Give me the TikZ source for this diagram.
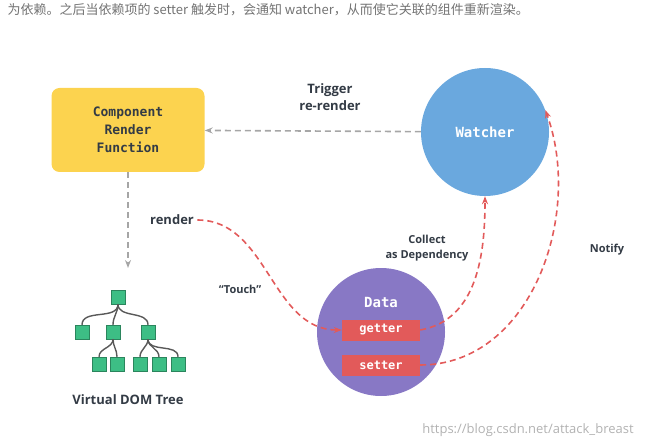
\documentclass[tikz,border=0pt]{standalone}
\usepackage{fontspec}
\setmainfont{Open Sans}
\newfontfamily\monofont{DejaVu Sans Mono}
\newfontfamily\cjk{Noto Sans CJK SC}
\usetikzlibrary{shapes,arrows.meta,positioning}
\definecolor{boxyellow}{HTML}{FCD34F}
\definecolor{watchblue}{HTML}{6AA8DE}
\definecolor{datapurple}{HTML}{8878C5}
\definecolor{accred}{HTML}{E25A5A}
\definecolor{treegreen}{HTML}{3DBE85}
\definecolor{txtdark}{HTML}{333B45}

\begin{document}
\begin{tikzpicture}[x=1pt,y=-1pt]
  \tikzstyle{comp} = [rectangle, rounded corners=8pt, fill=boxyellow, minimum width=153pt, minimum height=84pt, align=center, font=\monofont\bfseries\fontsize{13}{18}\selectfont, text=txtdark]
  \tikzstyle{bubble} = [circle, minimum size=128pt, font=\monofont\bfseries\fontsize{14}{16}\selectfont, text=white]
  \tikzstyle{acc} = [rectangle, fill=accred, minimum width=78pt, minimum height=21pt, font=\monofont\bfseries\fontsize{12}{14}\selectfont, text=white]
  \tikzstyle{cube} = [rectangle, fill=treegreen, draw=treegreen!70!black, line width=0.4pt, minimum size=14pt, inner sep=0pt]
  \tikzstyle{lbl} = [font=\bfseries\fontsize{13}{17}\selectfont, text=txtdark, align=center]
  \tikzstyle{sml} = [font=\bfseries\fontsize{11}{15}\selectfont, text=txtdark, align=center]
  \tikzstyle{red dash} = [-{Stealth[length=8pt]}, dashed, dash pattern=on 6pt off 4pt, accred, line width=1.6pt]
  \tikzstyle{gray dash} = [-{Stealth[length=8pt]}, dashed, dash pattern=on 6pt off 4pt, gray!70, line width=1.6pt]

  \useasboundingbox (0,0) rectangle (650,446);

  \node[anchor=west, text=gray!90!black, font=\cjk\fontsize{13}{15}\selectfont] (intro) at (4,10) {为依赖。之后当依赖项的 setter 触发时，会通知 watcher，从而使它关联的组件重新渲染。};

  \node[comp] (render) at (128,130) {Component\\Render\\Function};
  \node[bubble, fill=watchblue] (watcher) at (485,132) {Watcher};
  \node[bubble, fill=datapurple] (data) at (381,332) {};
  \node[font=\monofont\bfseries\fontsize{14}{16}\selectfont, text=white] (dlabel) at (381,302) {Data};
  \node[acc] (getter) at (381,330) {getter};
  \node[acc] (setter) at (381,365) {setter};

  % tree
  \node[cube] (t0) at (118,297) {};
  \node[cube] (t1) at (82,332) {};
  \node[cube] (t2) at (113,332) {};
  \node[cube] (t3) at (148,332) {};
  \node[cube] (t4) at (99,364) {};
  \node[cube] (t5) at (117,364) {};
  \node[cube] (t6) at (140,364) {};
  \node[cube] (t7) at (159,364) {};
  \node[cube] (t8) at (178,364) {};
  \coordinate (treetop) at (128,268);
  \foreach \a/\b in {t0/t1,t0/t2,t0/t3,t2/t4,t2/t5,t3/t6,t3/t7,t3/t8}
    \draw[gray!70!black, line width=1.4pt] (\a.south) to[out=-90, in=90] (\b.north);
  \node[lbl] (vdom) at (128,400) {Virtual DOM Tree};

  \draw[gray dash] (watcher) -- (render);
  \node[lbl] (trigger) at (330,97) {Trigger\\re-render};
  \draw[gray dash] (render) -- (treetop);

  \node[lbl] (rlabel) at (172,220) {render};
  \draw[red dash] (rlabel.east) to[out=0, in=180] (getter.west);
  \node[sml] (touch) at (240,289) {“Touch”};

  \draw[red dash] (getter.east) to[out=10, in=-90] (watcher.south);
  \node[sml] (collect) at (427,248) {Collect\\as Dependency};

  \draw[red dash] (setter.east) to[out=0, in=-70] (watcher.20);
  \node[sml] (notify) at (607,250) {Notify};

  \node[text=gray!60, font=\fontsize{13}{15}\selectfont] (mark) at (528,430) {https://blog.csdn.net/attack\_breast};
\end{tikzpicture}
\end{document}
